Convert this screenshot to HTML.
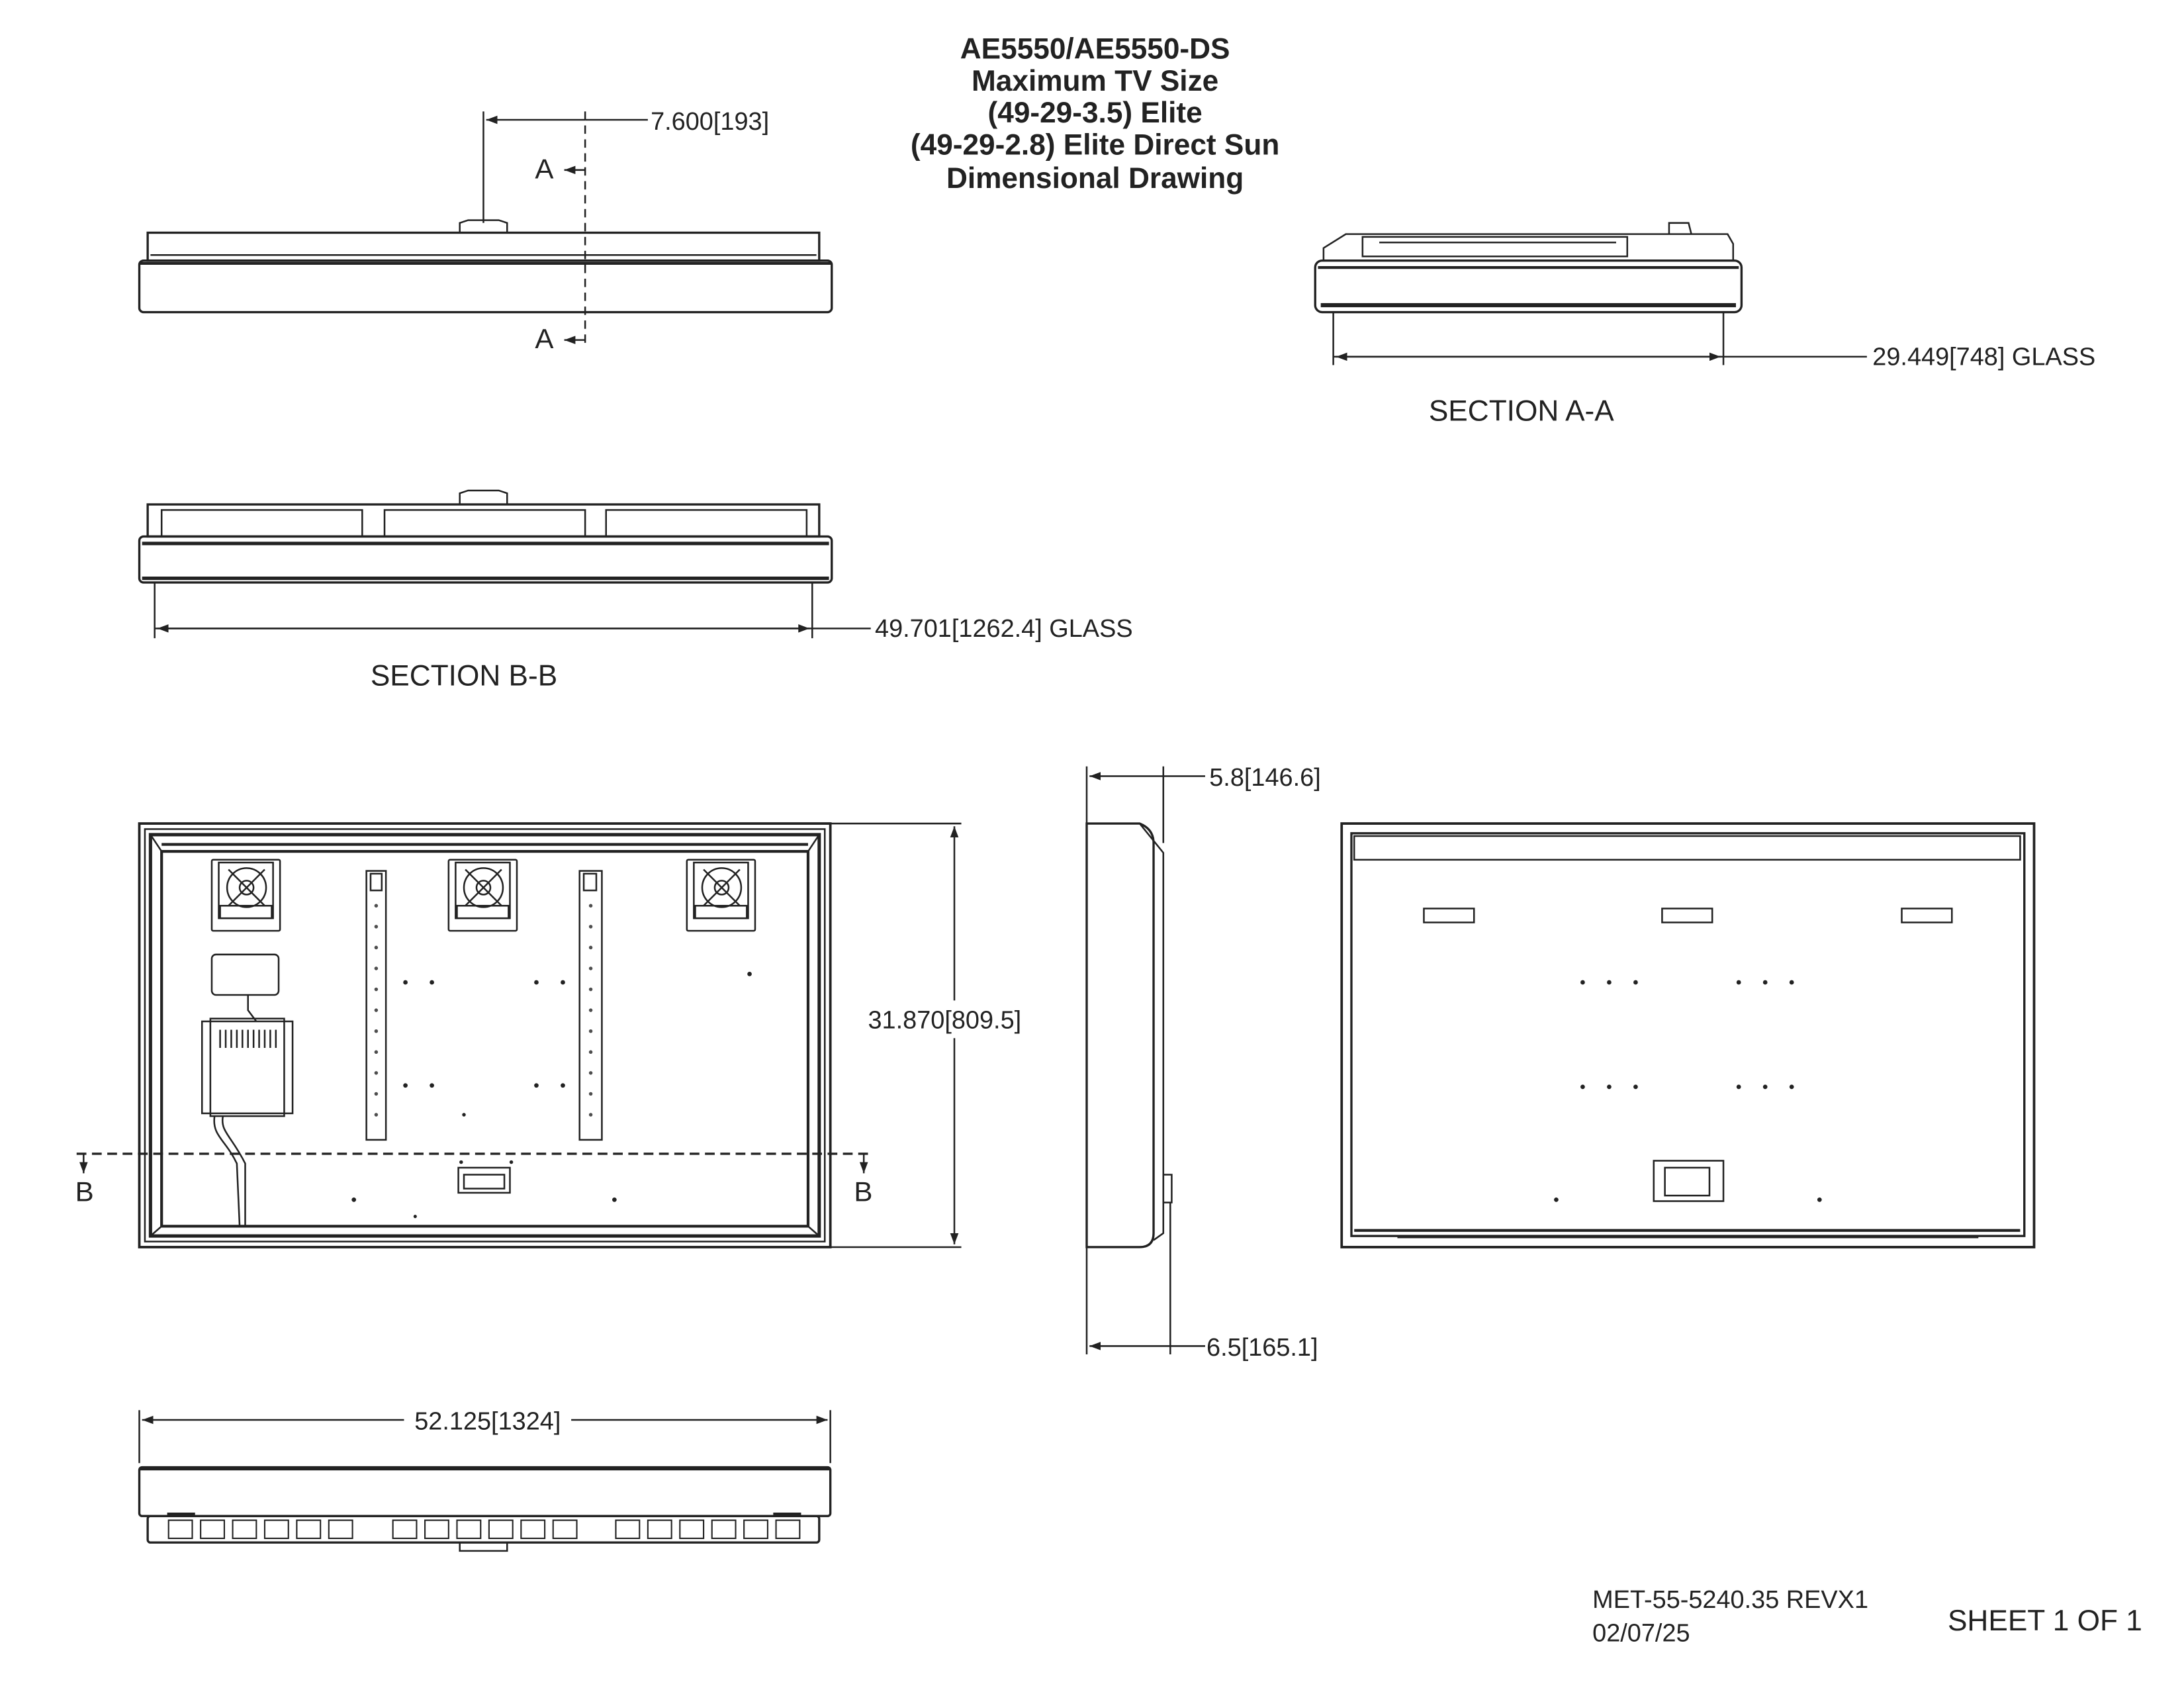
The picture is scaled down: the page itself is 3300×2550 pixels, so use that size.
<!DOCTYPE html>
<html><head><meta charset="utf-8"><style>
html,body{margin:0;padding:0;background:#fff}
svg{display:block}
text{font-family:"Liberation Sans",sans-serif;fill:#222}
</style></head><body>
<svg width="3300" height="2550" viewBox="0 0 1567.6 1211.4" preserveAspectRatio="none" xmlns="http://www.w3.org/2000/svg">
<defs>
<marker id="ar" markerWidth="8" markerHeight="6" refX="8" refY="3" orient="auto" markerUnits="userSpaceOnUse"><path d="M0,0 L8,3 L0,6z" fill="#222"/></marker>
</defs>
<g text-anchor="middle" font-weight="bold" font-size="21">
<text x="786" y="42">AE5550/AE5550-DS</text>
<text x="786" y="65">Maximum TV Size</text>
<text x="786" y="88">(49-29-3.5) Elite</text>
<text x="786" y="111">(49-29-2.8) Elite Direct Sun</text>
<text x="786" y="135">Dimensional Drawing</text>
</g>

<g fill="none" stroke="#222" stroke-width="1.2">
<rect x="106" y="167" width="482" height="20" stroke-width="1.6"/>
<line x1="108" y1="183" x2="586" y2="183"/>
<rect x="100" y="187" width="497" height="37" rx="3" stroke-width="1.6"/>
<line x1="100" y1="189" x2="597" y2="189" stroke-width="2"/>
<path d="M330,167 L330,160 L336,158 L358,158 L364,160 L364,167"/>
<line x1="420" y1="80" x2="420" y2="250" stroke-dasharray="6,4"/>
<line x1="347" y1="80" x2="347" y2="160"/>
<line x1="420" y1="86" x2="349" y2="86" marker-end="url(#ar)"/>
<line x1="420" y1="86" x2="465" y2="86"/>
<line x1="420" y1="122" x2="405" y2="122" marker-end="url(#ar)"/>
<line x1="420" y1="244" x2="405" y2="244" marker-end="url(#ar)"/>

<path d="M950,187 L950,178 L966,168 L1240,168 L1244,175 L1244,187"/>
<rect x="978" y="170" width="190" height="14"/>
<line x1="990" y1="174" x2="1160" y2="174"/>
<path d="M1198,168 L1198,160 L1212,160 L1214,168"/>
<rect x="944" y="187" width="306" height="37" rx="5" stroke-width="1.6"/>
<line x1="946" y1="192" x2="1248" y2="192" stroke-width="2"/>
<line x1="948" y1="219" x2="1246" y2="219" stroke-width="3"/>
<line x1="957" y1="224" x2="957" y2="262"/>
<line x1="1237" y1="224" x2="1237" y2="262"/>
<line x1="1237" y1="256" x2="959" y2="256" marker-end="url(#ar)"/>
<line x1="957" y1="256" x2="1235" y2="256" marker-end="url(#ar)"/>
<line x1="1237" y1="256" x2="1340" y2="256"/>

<rect x="106" y="362" width="482" height="23" stroke-width="1.6"/>
<rect x="116" y="366" width="144" height="19"/>
<rect x="276" y="366" width="144" height="19"/>
<rect x="435" y="366" width="144" height="19"/>
<path d="M330,362 L330,354 L336,352 L358,352 L364,354 L364,362"/>
<rect x="100" y="385" width="497" height="33" rx="3" stroke-width="1.6"/>
<line x1="102" y1="390" x2="595" y2="390" stroke-width="2.5"/>
<line x1="102" y1="415" x2="595" y2="415" stroke-width="2.5"/>
<line x1="111" y1="418" x2="111" y2="458"/>
<line x1="583" y1="418" x2="583" y2="458"/>
<line x1="583" y1="451" x2="113" y2="451" marker-end="url(#ar)"/>
<line x1="111" y1="451" x2="581" y2="451" marker-end="url(#ar)"/>
<line x1="583" y1="451" x2="625" y2="451"/>

<rect x="100" y="591" width="496" height="304" stroke-width="1.8"/>
<rect x="104" y="595" width="488" height="296"/>
<rect x="108" y="599" width="480" height="288" stroke-width="2.4"/>
<rect x="116" y="611" width="464" height="269" stroke-width="2"/>
<line x1="108" y1="599" x2="116" y2="611"/><line x1="588" y1="599" x2="580" y2="611"/>
<line x1="108" y1="887" x2="116" y2="880"/><line x1="588" y1="887" x2="580" y2="880"/>
<line x1="116" y1="606" x2="580" y2="606" stroke-width="2"/>
<g id="fan">
<rect x="152" y="617" width="49" height="51" rx="1"/>
<rect x="157" y="619" width="39" height="40"/>
<circle cx="177" cy="637" r="14"/>
<circle cx="177" cy="637" r="5"/>
<line x1="164" y1="624" x2="190" y2="650"/><line x1="190" y1="624" x2="164" y2="650"/>
<rect x="158" y="650" width="37" height="9"/>
</g>
<use href="#fan" x="170"/>
<use href="#fan" x="341"/>
<rect x="263" y="625" width="14" height="193"/>
<rect x="266" y="627" width="8" height="12"/>
<rect x="416" y="625" width="16" height="193"/>
<rect x="419" y="627" width="9" height="12"/>
<rect x="152" y="685" width="48" height="29" rx="3"/>
<path d="M178,714 L178,725 L184,733"/>
<rect x="145" y="733" width="65" height="66"/>
<rect x="151" y="731" width="53" height="70"/>
<path d="M158,739 L158,752 M162,739 L162,752 M166,739 L166,752 M170,739 L170,752 M174,739 L174,752 M178,739 L178,752 M182,739 L182,752 M186,739 L186,752 M190,739 L190,752 M194,739 L194,752 M198,739 L198,752"/>
<path d="M154,801 C152,815 162,818 170,835 L172,880 M160,801 C158,812 166,815 176,835 L176,880"/>
<line x1="55" y1="828" x2="625" y2="828" stroke-dasharray="7,4" stroke-width="1.6"/>
<line x1="60" y1="828" x2="60" y2="842" marker-end="url(#ar)"/>
<line x1="620" y1="828" x2="620" y2="842" marker-end="url(#ar)"/>
<rect x="329" y="838" width="37" height="18"/>
<rect x="333" y="843" width="29" height="10"/>
<line x1="596" y1="591" x2="690" y2="591"/>
<line x1="596" y1="895" x2="690" y2="895"/>
<line x1="685" y1="718" x2="685" y2="593" marker-end="url(#ar)"/>
<line x1="685" y1="745" x2="685" y2="893" marker-end="url(#ar)"/>

<path d="M780,591 L818,591 Q828,595 828,605 L828,885 Q828,895 818,895 L780,895 Z" stroke-width="1.6"/>
<path d="M818,591 L835,612 L835,885 L828,890"/>
<rect x="835" y="843" width="6" height="20"/>
<line x1="780" y1="550" x2="780" y2="591"/>
<line x1="835" y1="550" x2="835" y2="605"/>
<line x1="835" y1="557" x2="782" y2="557" marker-end="url(#ar)"/>
<line x1="835" y1="557" x2="865" y2="557"/>
<line x1="780" y1="895" x2="780" y2="972"/>
<line x1="840" y1="863" x2="840" y2="972"/>
<line x1="840" y1="966" x2="782" y2="966" marker-end="url(#ar)"/>
<line x1="840" y1="966" x2="865" y2="966"/>

<rect x="963" y="591" width="497" height="304" stroke-width="1.8"/>
<rect x="970" y="598" width="483" height="289" stroke-width="1.6"/>
<rect x="972" y="600" width="478" height="17"/>
<rect x="1022" y="652" width="36" height="10"/>
<rect x="1193" y="652" width="36" height="10"/>
<rect x="1365" y="652" width="36" height="10"/>
<rect x="1187" y="833" width="50" height="29"/>
<rect x="1195" y="838" width="32" height="20"/>
<line x1="972" y1="883" x2="1450" y2="883" stroke-width="2"/>
<line x1="1003" y1="888" x2="1420" y2="888"/>

<line x1="100" y1="1012" x2="100" y2="1050"/>
<line x1="596" y1="1012" x2="596" y2="1050"/>
<line x1="290" y1="1019" x2="102" y2="1019" marker-end="url(#ar)"/>
<line x1="410" y1="1019" x2="594" y2="1019" marker-end="url(#ar)"/>
<rect x="100" y="1053" width="496" height="35" rx="2" stroke-width="1.6"/>
<line x1="100" y1="1054" x2="596" y2="1054" stroke-width="2.5"/>
<rect x="106" y="1088" width="482" height="19" rx="2" stroke-width="1.6"/>
<line x1="120" y1="1087" x2="140" y2="1087" stroke-width="3"/>
<line x1="555" y1="1087" x2="575" y2="1087" stroke-width="3"/>
<path d="M330,1107 L330,1113 L364,1113 L364,1107"/>
</g>
<g fill="none" stroke="#222" stroke-width="1">
<rect x="121" y="1091" width="17" height="13"/><rect x="144" y="1091" width="17" height="13"/><rect x="167" y="1091" width="17" height="13"/><rect x="190" y="1091" width="17" height="13"/><rect x="213" y="1091" width="17" height="13"/><rect x="236" y="1091" width="17" height="13"/>
<rect x="282" y="1091" width="17" height="13"/><rect x="305" y="1091" width="17" height="13"/><rect x="328" y="1091" width="17" height="13"/><rect x="351" y="1091" width="17" height="13"/><rect x="374" y="1091" width="17" height="13"/><rect x="397" y="1091" width="17" height="13"/>
<rect x="442" y="1091" width="17" height="13"/><rect x="465" y="1091" width="17" height="13"/><rect x="488" y="1091" width="17" height="13"/><rect x="511" y="1091" width="17" height="13"/><rect x="534" y="1091" width="17" height="13"/><rect x="557" y="1091" width="17" height="13"/>
</g>
<g fill="#222">
<circle cx="291" cy="705" r="1.6"/><circle cx="310" cy="705" r="1.6"/><circle cx="385" cy="705" r="1.6"/><circle cx="404" cy="705" r="1.6"/>
<circle cx="291" cy="779" r="1.6"/><circle cx="310" cy="779" r="1.6"/><circle cx="385" cy="779" r="1.6"/><circle cx="404" cy="779" r="1.6"/>
<circle cx="538" cy="699" r="1.6"/><circle cx="333" cy="800" r="1.3"/>
<circle cx="254" cy="861" r="1.6"/><circle cx="441" cy="861" r="1.6"/><circle cx="298" cy="873" r="1.2"/>
<circle cx="331" cy="834" r="1.3"/><circle cx="367" cy="834" r="1.3"/>
<circle cx="1136" cy="705" r="1.6"/><circle cx="1155" cy="705" r="1.6"/><circle cx="1174" cy="705" r="1.6"/>
<circle cx="1248" cy="705" r="1.6"/><circle cx="1267" cy="705" r="1.6"/><circle cx="1286" cy="705" r="1.6"/>
<circle cx="1136" cy="780" r="1.6"/><circle cx="1155" cy="780" r="1.6"/><circle cx="1174" cy="780" r="1.6"/>
<circle cx="1248" cy="780" r="1.6"/><circle cx="1267" cy="780" r="1.6"/><circle cx="1286" cy="780" r="1.6"/>
<circle cx="1117" cy="861" r="1.6"/><circle cx="1306" cy="861" r="1.6"/>
</g>
<g fill="#222" fill-opacity="0.8">
<circle cx="270" cy="650" r="1.3"/><circle cx="270" cy="665" r="1.3"/><circle cx="270" cy="680" r="1.3"/><circle cx="270" cy="695" r="1.3"/><circle cx="270" cy="710" r="1.3"/><circle cx="270" cy="725" r="1.3"/><circle cx="270" cy="740" r="1.3"/><circle cx="270" cy="755" r="1.3"/><circle cx="270" cy="770" r="1.3"/><circle cx="270" cy="785" r="1.3"/><circle cx="270" cy="800" r="1.3"/>
<circle cx="424" cy="650" r="1.3"/><circle cx="424" cy="665" r="1.3"/><circle cx="424" cy="680" r="1.3"/><circle cx="424" cy="695" r="1.3"/><circle cx="424" cy="710" r="1.3"/><circle cx="424" cy="725" r="1.3"/><circle cx="424" cy="740" r="1.3"/><circle cx="424" cy="755" r="1.3"/><circle cx="424" cy="770" r="1.3"/><circle cx="424" cy="785" r="1.3"/><circle cx="424" cy="800" r="1.3"/>
</g>

<g font-size="18">
<text x="467" y="93">7.600[193]</text>
<text x="384" y="128" font-size="20">A</text>
<text x="384" y="250" font-size="20">A</text>
<text x="1344" y="262">29.449[748] GLASS</text>
<text x="1092" y="302" text-anchor="middle" font-size="21">SECTION A-A</text>
<text x="628" y="457">49.701[1262.4] GLASS</text>
<text x="333" y="492" text-anchor="middle" font-size="21">SECTION B-B</text>
<text x="54" y="862" font-size="20">B</text>
<text x="613" y="862" font-size="20">B</text>
<text x="623" y="738">31.870[809.5]</text>
<text x="868" y="564">5.8[146.6]</text>
<text x="866" y="973">6.5[165.1]</text>
<text x="350" y="1026" text-anchor="middle">52.125[1324]</text>
<text x="1143" y="1154">MET-55-5240.35 REVX1</text>
<text x="1143" y="1178">02/07/25</text>
<text x="1398" y="1170" font-size="21">SHEET 1 OF  1</text>
</g>
</svg>
</body></html>
